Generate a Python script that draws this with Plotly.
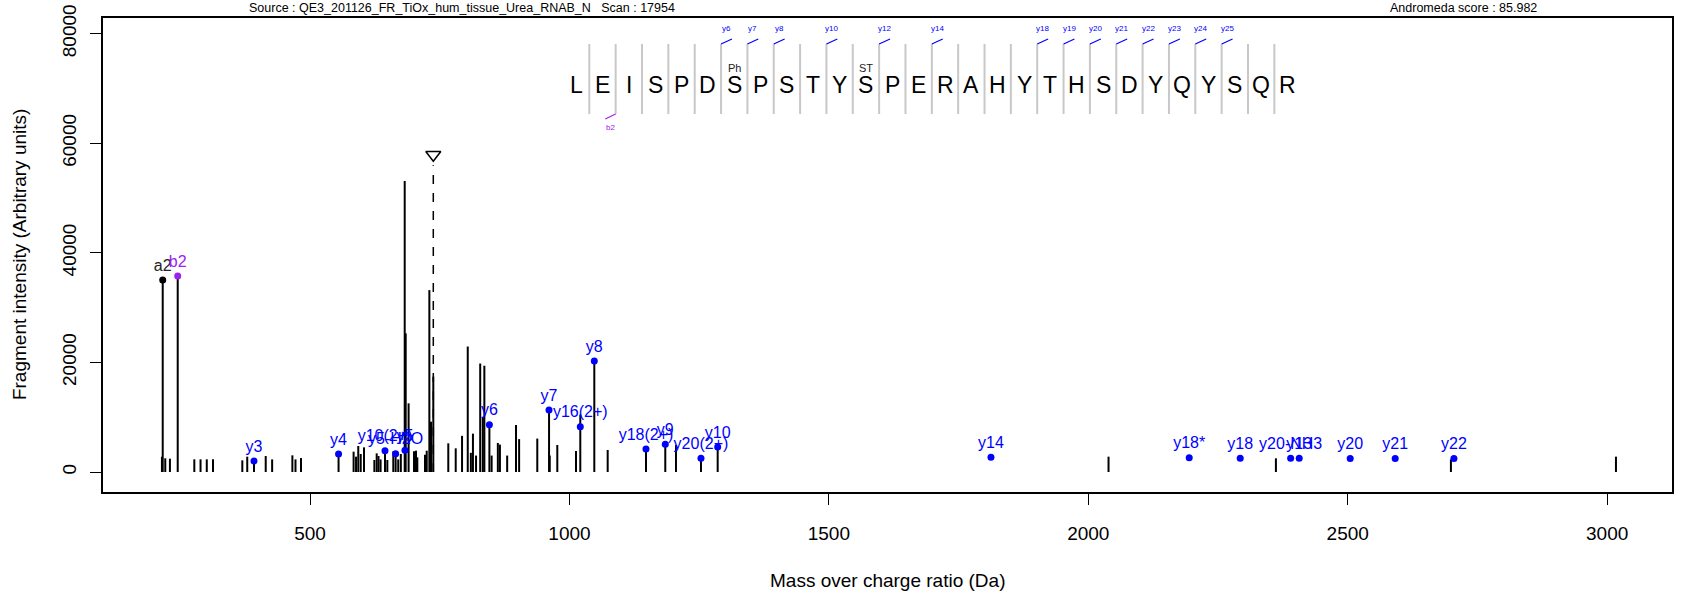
import plotly.graph_objects as go

# ---------------- data ----------------
peak_mz = [214.6, 216.1, 221.0, 230.0, 245.0, 277, 289, 301, 313, 369.5, 379, 392, 414.6, 427,
           466, 472, 482.6, 555, 584, 588.7, 593, 597.7, 604, 624, 628.5, 632, 636, 644.5, 649,
           660.5, 665, 670, 675, 682.5, 684.4, 690, 700.4, 704.3, 706.8, 721.6, 724.9, 730,
           733.2, 737.6, 766.5, 780.8, 793, 804, 810, 814, 820, 828, 833, 836, 845.7, 850, 862,
           866, 880, 897, 903, 938, 960.7, 962, 976.6, 1012.6, 1020.9, 1047.9, 1073.7, 1147.5,
           1184.7, 1205.3, 1253.5, 1285.7, 2039, 2361.6, 2698.9, 3017]
peak_int = [2800, 35040, 2500, 2430, 35770, 2310, 2310, 2310, 2310, 2130, 2800, 2000, 2920, 2300,
            3040, 2300, 2550, 3285, 3710, 2800, 4745, 3285, 4500, 2190, 3400, 2920, 2300, 3890, 2190,
            3770, 3340, 2300, 3285, 53100, 25300, 12530, 3770, 3890, 2675, 3160, 3890, 33200,
            9180, 17400, 5230, 4320, 6600, 22900, 3500, 7000, 3000, 19800, 10000, 19400, 8630, 3000, 5300,
            5000, 3000, 8600, 6000, 6100, 11200, 3000, 4930, 3830, 10500, 20260, 4015, 4200,
            5050, 4930, 2500, 4560, 2800, 2500, 2300, 2800]

ion_labels = ["a2", "b2", "y3", "y4", "y10(2+)", "y5-H2O", "y5", "y6", "y7", "y16(2+)", "y8",
              "y18(2+)", "y9", "y20(2+)", "y10", "y14", "y18*", "y18", "y20-NH3", "y13", "y20",
              "y21", "y22"]
ion_types = ["a", "b", "y", "y", "y", "y", "y", "y", "y", "y", "y",
             "y", "y", "y", "y", "y", "y", "y", "y", "y", "y", "y", "y"]
ion_mz = [216.1, 245.0, 392, 555, 644.5, 665, 683, 845.7, 960.6, 1020.9, 1047.9,
          1147.5, 1184.7, 1253.5, 1285.7, 1812.4, 2194.5, 2292.8, 2390, 2406.5, 2504.8,
          2591.5, 2704.7]
ion_int = [35040, 35770, 2000, 3285, 3890, 3340, 3960, 8630, 11315, 8270, 20260,
           4200, 5050, 2500, 4560, 2680, 2600, 2500, 2500, 2500, 2450, 2450, 2450]

sequence = list("LEISPDSPSTYSPERAHYTHSDYQYSQR")
y_breaks = [6, 7, 8, 10, 12, 14, 18, 19, 20, 21, 22, 23, 24, 25]
b_breaks = [2]
mod_positions = [7, 12]
mod_labels = ["Ph", "ST"]

precursor_mz = 737.6
precursor_int = 57900

x_ticks = [500, 1000, 1500, 2000, 2500, 3000]
y_ticks = [0, 20000, 40000, 60000, 80000]
y_tick_labels = ["0", "20000", "40000", "60000", "80000"]

source_text = "Source : QE3_201126_FR_TiOx_hum_tissue_Urea_RNAB_N   Scan : 17954"
score_text = "Andromeda score : 85.982"

# ---------------- styling ----------------
FONT = "Liberation Sans, Arial, Helvetica, sans-serif"
type_color = {"a": "#000000", "b": "#A020F0", "y": "#0000FF"}
label_color = {"a": "#222222", "b": "#A020F0", "y": "#0000FF"}

fig = go.Figure()

# stems
sx, sy = [], []
for m, i in zip(peak_mz, peak_int):
    sx += [m, m, None]
    sy += [0, i, None]
fig.add_trace(go.Scatter(x=sx, y=sy, mode="lines", line=dict(color="black", width=2),
                         hoverinfo="skip", showlegend=False))

# precursor
fig.add_trace(go.Scatter(x=[precursor_mz, precursor_mz], y=[0, precursor_int - 1900], mode="lines",
                         line=dict(color="black", width=1.5, dash="dash"), showlegend=False))
fig.add_trace(go.Scatter(x=[precursor_mz], y=[precursor_int], mode="markers",
                         marker=dict(symbol="triangle-down-open", size=13, color="black",
                                     line=dict(width=1.5, color="black")), showlegend=False))

# annotated ions
for t in ["a", "b", "y"]:
    idx = [k for k, tt in enumerate(ion_types) if tt == t]
    fig.add_trace(go.Scatter(x=[ion_mz[k] for k in idx], y=[ion_int[k] for k in idx],
                             mode="markers+text", text=[ion_labels[k] for k in idx],
                             textposition="top center",
                             textfont=dict(family=FONT, size=16, color=label_color[t]),
                             marker=dict(size=7, color=type_color[t]), showlegend=False))

# sequence display (data coordinates)
seq_start = 1012.9
seq_step = 50.78
sep_top, sep_bot = 78110, 65335
shapes = []
annotations = []
for i, aa in enumerate(sequence):
    annotations.append(dict(x=seq_start + i * seq_step, y=70630, text=aa, showarrow=False,
                            font=dict(family=FONT, size=23, color="black"),
                            xanchor="center", yanchor="middle"))
for k in range(1, len(sequence)):
    sxk = seq_start + (k - 0.5) * seq_step
    shapes.append(dict(type="line", x0=sxk, x1=sxk, y0=sep_bot, y1=sep_top,
                       line=dict(color="#C8C8C8", width=2), layer="below"))
for k in y_breaks:
    sxk = seq_start + (k - 0.5) * seq_step
    shapes.append(dict(type="line", x0=sxk, x1=sxk + 21, y0=sep_top, y1=sep_top + 900,
                       line=dict(color="#0000FF", width=1.2)))
    annotations.append(dict(x=sxk + 10.5, y=80850, text="y%d" % k, showarrow=False,
                            font=dict(family=FONT, size=8, color="#0000FF"),
                            xanchor="center", yanchor="middle"))
for k in b_breaks:
    sxk = seq_start + (k - 0.5) * seq_step
    shapes.append(dict(type="line", x0=sxk, x1=sxk - 20, y0=sep_bot, y1=sep_bot - 900,
                       line=dict(color="#A020F0", width=1.2)))
    annotations.append(dict(x=sxk - 10, y=62835, text="b%d" % k, showarrow=False,
                            font=dict(family=FONT, size=8, color="#A020F0"),
                            xanchor="center", yanchor="middle"))
for p, lab in zip(mod_positions, mod_labels):
    annotations.append(dict(x=seq_start + (p - 1) * seq_step, y=73675, text=lab, showarrow=False,
                            font=dict(family=FONT, size=11, color="#222222"),
                            xanchor="center", yanchor="middle"))

# header texts and axis titles (paper coordinates)
annotations += [
    dict(x=0.2288, y=1.0211, xref="paper", yref="paper", text=source_text, showarrow=False,
         font=dict(family=FONT, size=12.5, color="black"), xanchor="center", yanchor="middle"),
    dict(x=0.8674, y=1.0211, xref="paper", yref="paper", text=score_text, showarrow=False,
         font=dict(family=FONT, size=12.5, color="black"), xanchor="center", yanchor="middle"),
    dict(x=0.5, y=-0.1857, xref="paper", yref="paper", text="Mass over charge ratio (Da)",
         showarrow=False, font=dict(family=FONT, size=19, color="black"),
         xanchor="center", yanchor="middle"),
    dict(x=-0.0535, y=0.5, xref="paper", yref="paper", text="Fragment intensity (Arbitrary units)",
         showarrow=False, textangle=-90, font=dict(family=FONT, size=19, color="black"),
         xanchor="center", yanchor="middle"),
]

fig.update_layout(
    width=1685, height=596,
    margin=dict(l=103, r=13, t=18, b=104, autoexpand=False),
    paper_bgcolor="white", plot_bgcolor="white",
    shapes=shapes, annotations=annotations,
    font=dict(family=FONT, color="black"),
    xaxis=dict(range=[101, 3125], tickvals=x_ticks, ticks="outside", ticklen=11, tickwidth=1.3,
               tickcolor="black", showline=True, mirror=True, linecolor="black", linewidth=1.5,
               showgrid=False, zeroline=False, tickfont=dict(family=FONT, size=19, color="black"),
               ticklabelstandoff=12, automargin=False),
    yaxis=dict(range=[-3650, 82855], tickvals=y_ticks, ticktext=y_tick_labels, ticks="outside",
               ticklen=11, tickwidth=1.3,
               tickcolor="black", showline=True, mirror=True, linecolor="black", linewidth=1.5,
               showgrid=False, zeroline=False, tickangle=-90,
               tickfont=dict(family=FONT, size=19, color="black"), ticklabelstandoff=7,
               automargin=False),
)

fig.write_html("out.html", config={"displayModeBar": False},
               post_script="document.body.style.margin='0px';document.body.style.overflow='hidden';")
